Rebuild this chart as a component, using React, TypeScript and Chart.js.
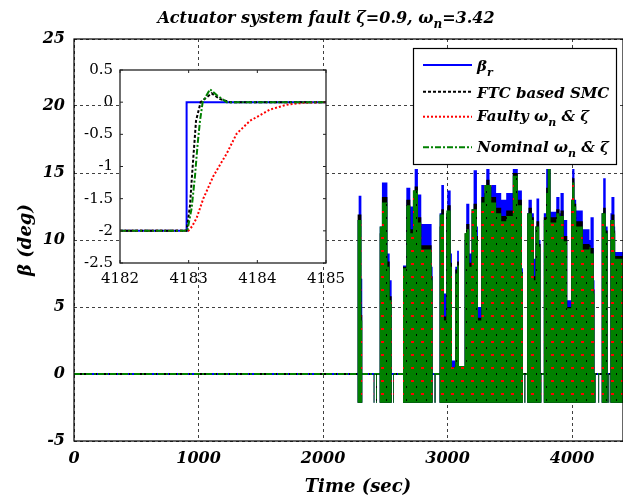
import React, { useEffect, useRef } from "react";
import { Chart, registerables } from "chart.js";

Chart.register(...registerables);

const FONT = '"DejaVu Serif", "Liberation Serif", serif';

// ---------- main axes ----------
const xTicks = [0, 1000, 2000, 3000, 4000];
const yTicks = [-5, 0, 5, 10, 15, 20, 25];
const X_MIN = 0;
const X_MAX = 4409;
const Y_MIN = -5;
const Y_MAX = 25;
const L = -2.15; // lower edge of the dense switching bursts

// zero level of all four signals outside the bursts
const baseT = [0, 4409];
const baseV = [0, 0];

// envelope of the dense bursts (level of each entry holds from the previous time to this time)
const envT = [
  2276, 2286, 2308, 2315, 2407, 2412, 2427, 2433, 2455, 2473, 2517, 2535, 2551, 2562, 2567,
  2642, 2669, 2701, 2722, 2736, 2762, 2789, 2872, 2880, 2896, 2903,
  2936, 2950, 2971, 2990, 2998, 3025, 3035, 3062, 3077, 3091, 3137, 3150, 3175,
  3193, 3209, 3236, 3244, 3271, 3297, 3311, 3337, 3351, 3390, 3431, 3471, 3524, 3564, 3597, 3605, 3618, 3624,
  3640, 3650, 3677, 3693, 3706, 3714, 3736, 3747, 3753, 3773, 3792, 3805, 3827,
  3873, 3899, 3907, 3933, 3961, 3993, 4001, 4019, 4033, 4086, 4140, 4148, 4174, 4180, 4188, 4212, 4217,
  4238, 4250, 4270, 4286, 4292, 4298, 4308, 4316, 4340, 4346, 4409,
];
const envBlue = [
  11.5, 13.3, 7.1, L, 0, L, 0, L, 11, 14.3, 9, 7, L, 0, L,
  8.1, 13.9, 12.5, 13, 15.3, 13.4, 11.2, 8, L, 0, L,
  12, 14.1, 6, 12, 13.7, 9, 1, 8, 9.2, 0.5, 10, 12.7, 9,
  12, 15.2, 11, 5, 14.1, 13.5, 15.3, 14, 14.1, 13.5, 13, 13.5, 15.3, 13.7, 7.9, L, 0, L,
  12, 13, 12, 8.6, 11, 13.1, 10, 0, L, 12, 15.3, 15.3, 12.1,
  13.2, 12, 13.5, 11.5, 5.5, 13, 15.3, 13, 12.2, 10.8, 10, 11.7, 7, 0, L, 0, L,
  12, 14.6, 11, L, 0, L, 12, 13.2, 11, 9.1, 9.1,
];
const envBlack = [
  11.9, 11.9, 4.4, L, 0, L, 0, L, 10.5, 13.2, 8.4, 5.8, L, 0, L,
  8, 13, 10.8, 13.7, 14, 11.7, 9.6, 7.3, L, 0, L,
  11, 12.3, 4.3, 12, 12.6, 8.3, 0.5, 7.8, 8.4, 0.6, 10.5, 11.2, 8.3,
  12.3, 12.7, 10.3, 4.2, 13.2, 14.1, 14.5, 14.1, 13.2, 12.4, 11.8, 12.2, 15, 13, 7.6, L, 0, L,
  12, 12.4, 11.7, 7.3, 11, 11.4, 9.7, 0, L, 11.7, 13.9, 15.3, 11.7,
  12.3, 11.8, 12.2, 10.3, 5, 13, 14.6, 12.7, 11.4, 9.7, 9.6, 9.4, 6.3, 0, L, 0, L,
  12, 12.4, 10.7, L, 0, L, 11.5, 11.9, 10.7, 8.8, 8.8,
];
const envGreen = [
  11.5, 11.5, 4, L, 0, L, 0, L, 11, 12.8, 8, 5.5, L, 0, L,
  7.9, 12.6, 10.5, 13.7, 13.7, 11.3, 9.3, 7, L, 0, L,
  11.9, 11.9, 4, 12.2, 12.2, 8, 0.5, 7.5, 8.1, 0.6, 10.5, 10.8, 8,
  12.3, 12.3, 10, 4, 12.8, 14.1, 14.1, 14.1, 12.8, 12, 11.4, 11.8, 14.8, 12.6, 7.5, L, 0, L,
  12, 12, 11.5, 7, 11, 11, 9.5, 0, L, 11.5, 13.5, 15.3, 11.3,
  12, 11.8, 11.8, 9.9, 4.9, 13, 14.3, 12.5, 11, 9.3, 9.5, 9, 6, 0, L, 0, L,
  12, 12, 10.5, L, 0, L, 11.5, 11.5, 10.5, 8.6, 8.6,
];

// ---------- inset (zoom around t = 4183 s) ----------
const inXTicks = [4182, 4183, 4184, 4185];
const inYTicks = [-2.5, -2, -1.5, -1, -0.5, 0, 0.5];
const inBlueT = [4182, 4182.97, 4182.97, 4185];
const inBlueV = [-2, -2, 0, 0];
const inBlackT = [4182, 4182.97, 4183.02, 4183.048, 4183.107, 4183.175, 4183.335, 4183.45, 4183.602, 4185];
const inBlackV = [-2, -2, -1.6, -1.15, -0.29, 0, 0.137, 0.05, 0, 0];
const inRedT = [4182, 4182.995, 4183.05, 4183.116, 4183.213, 4183.359, 4183.553, 4183.699, 4183.893, 4184.184, 4184.427, 4184.67, 4185];
const inRedV = [-2, -2, -1.93, -1.8, -1.5, -1.15, -0.8, -0.49, -0.29, -0.115, -0.04, -0.01, 0];
const inGreenT = [4182, 4182.98, 4183.043, 4183.092, 4183.131, 4183.165, 4183.204, 4183.311, 4183.408, 4183.553, 4185];
const inGreenV = [-2, -2, -1.65, -1.15, -0.645, -0.29, 0, 0.2, 0.11, 0, 0];

// ---------- texts ----------
type Part = [string, boolean];
const titleParts: Part[] = [["Actuator system fault \u03b6=0.9, \u03c9", false], ["n", true], ["=3.42", false]];
const xTitleParts: Part[] = [["Time (sec)", false]];
const yTitleParts: Part[] = [["\u03b2 (deg)", false]];
const legendRows: Part[][] = [
  [["\u03b2", false], ["r", true]],
  [["FTC based SMC", false]],
  [["Faulty \u03c9", false], ["n", true], [" & \u03b6", false]],
  [["Nominal \u03c9", false], ["n", true], [" & \u03b6", false]],
];

const COLORS = { blue: "#0000ff", black: "#000000", red: "#ff0000", green: "#008000" };
const DASH = { blue: [] as number[], black: [3, 2], red: [2, 2], green: [6, 2, 2, 2] };

const zip = (t: number[], v: number[]) => t.map((x, i) => ({ x, y: v[i] }));

function drawRich(ctx: CanvasRenderingContext2D, parts: Part[], x: number, y: number, size: number, align: "left" | "center") {
  const main = `italic bold ${size}px ${FONT}`;
  const sub = `italic bold ${Math.round(size * 0.72)}px ${FONT}`;
  let w = 0;
  for (const [t, s] of parts) {
    ctx.font = s ? sub : main;
    w += ctx.measureText(t).width;
  }
  let cx = align === "center" ? x - w / 2 : x;
  ctx.textAlign = "left";
  ctx.textBaseline = "alphabetic";
  for (const [t, s] of parts) {
    ctx.font = s ? sub : main;
    ctx.fillText(t, cx, s ? y + size * 0.32 : y);
    cx += ctx.measureText(t).width;
  }
}

function makePattern(ctx: CanvasRenderingContext2D) {
  const c = document.createElement("canvas");
  c.width = 10;
  c.height = 13;
  const g = c.getContext("2d")!;
  g.fillStyle = COLORS.green;
  g.fillRect(0, 0, 10, 13);
  g.fillStyle = COLORS.red;
  g.fillRect(1, 3, 3, 2);
  g.fillStyle = COLORS.black;
  g.fillRect(6, 9, 1, 2);
  return ctx.createPattern(c, "repeat")!;
}

const mainDecor = {
  id: "mainDecor",
  afterDatasetsDraw(chart: any) {
    const { ctx, chartArea: a } = chart;
    ctx.save();
    ctx.setLineDash([]);
    ctx.strokeStyle = "#000";
    ctx.lineWidth = 1.2;
    ctx.strokeRect(a.left, a.top, a.right - a.left, a.bottom - a.top);
    ctx.restore();
  },
  afterDraw(chart: any) {
    const ctx: CanvasRenderingContext2D = chart.ctx;
    ctx.save();
    ctx.fillStyle = "#000";
    drawRich(ctx, titleParts, 326, 23, 16, "center");
    drawRich(ctx, xTitleParts, 358, 492, 18, "center");
    ctx.save();
    ctx.translate(31, 240);
    ctx.rotate(-Math.PI / 2);
    drawRich(ctx, yTitleParts, 0, 0, 18, "center");
    ctx.restore();

    // legend
    const bx = 413.5, by = 48.5, bw = 203, bh = 116;
    ctx.fillStyle = "#fff";
    ctx.fillRect(bx, by, bw, bh);
    ctx.strokeStyle = "#000";
    ctx.lineWidth = 1.2;
    ctx.setLineDash([]);
    ctx.strokeRect(bx, by, bw, bh);
    const keys = ["blue", "black", "red", "green"] as const;
    const lineY = [65, 91.7, 116.7, 147.3];
    const textY = [71, 98, 121, 152];
    keys.forEach((k, i) => {
      ctx.strokeStyle = COLORS[k];
      ctx.lineWidth = 2;
      ctx.setLineDash(DASH[k]);
      ctx.beginPath();
      ctx.moveTo(423, lineY[i]);
      ctx.lineTo(472, lineY[i]);
      ctx.stroke();
      ctx.setLineDash([]);
      ctx.fillStyle = "#000";
      drawRich(ctx, legendRows[i], 477, textY[i], 15, "left");
    });
    ctx.restore();
  },
};

const insetDecor = {
  id: "insetDecor",
  beforeDatasetsDraw(chart: any) {
    const { ctx, chartArea: a } = chart;
    ctx.save();
    ctx.fillStyle = "#fff";
    ctx.fillRect(a.left, a.top, a.right - a.left, a.bottom - a.top);
    ctx.restore();
  },
  afterDatasetsDraw(chart: any) {
    const { ctx, chartArea: a, scales } = chart;
    ctx.save();
    ctx.setLineDash([]);
    ctx.strokeStyle = "#222";
    ctx.lineWidth = 1.3;
    ctx.strokeRect(a.left, a.top, a.right - a.left, a.bottom - a.top);
    ctx.lineWidth = 1;
    ctx.beginPath();
    for (const v of inXTicks) {
      const px = scales.x.getPixelForValue(v);
      ctx.moveTo(px, a.bottom);
      ctx.lineTo(px, a.bottom - 3);
      ctx.moveTo(px, a.top);
      ctx.lineTo(px, a.top + 3);
    }
    for (const v of inYTicks) {
      const py = scales.y.getPixelForValue(v);
      ctx.moveTo(a.left, py);
      ctx.lineTo(a.left + 3, py);
      ctx.moveTo(a.right, py);
      ctx.lineTo(a.right - 3, py);
    }
    ctx.stroke();
    ctx.restore();
  },
};

export default function App() {
  const mainRef = useRef<HTMLCanvasElement>(null);
  const insetRef = useRef<HTMLCanvasElement>(null);

  useEffect(() => {
    const mctx = mainRef.current!.getContext("2d")!;
    const pattern = makePattern(mctx);
    const tickFont = { family: FONT, size: 16, style: "italic" as const, weight: "bold" as const };
    const envSet = (v: number[], bg: any, order: number) => ({
      data: zip(envT, v),
      stepped: true,
      borderWidth: 0,
      borderColor: "rgba(0,0,0,0)",
      backgroundColor: bg,
      fill: { value: L },
      pointRadius: 0,
      order,
    });
    const lineSet = (k: keyof typeof COLORS, t: number[], v: number[], order: number) => ({
      data: zip(t, v),
      borderColor: COLORS[k],
      borderDash: DASH[k],
      borderWidth: 2,
      pointRadius: 0,
      fill: false,
      tension: 0,
      order,
    });

    const main = new Chart(mctx, {
      type: "line",
      data: {
        datasets: [
          envSet(envGreen, pattern, 0),
          envSet(envBlack, COLORS.black, 1),
          envSet(envBlue, COLORS.blue, 2),
          lineSet("green", baseT, baseV, 3),
          lineSet("red", baseT, baseV, 4),
          lineSet("black", baseT, baseV, 5),
          lineSet("blue", baseT, baseV, 6),
        ] as any,
      },
      options: {
        animation: false,
        responsive: false,
        maintainAspectRatio: false,
        layout: { padding: { top: 39, right: 0, left: 0, bottom: 0 } },
        plugins: { legend: { display: false }, tooltip: { enabled: false }, title: { display: false } },
        scales: {
          x: {
            type: "linear",
            min: X_MIN,
            max: X_MAX,
            afterBuildTicks: (s: any) => {
              s.ticks = xTicks.map((value) => ({ value }));
            },
            afterFit: (s: any) => {
              s.height = 58;
            },
            grid: { color: "rgba(0,0,0,0.75)", lineWidth: 1, drawTicks: false, borderDash: [3, 3] } as any,
            border: { display: false, dash: [3, 3] },
            ticks: { color: "#000", font: tickFont, padding: 8, maxRotation: 0, autoSkip: false, callback: (v: any) => String(v) },
          },
          y: {
            type: "linear",
            min: Y_MIN,
            max: Y_MAX,
            afterBuildTicks: (s: any) => {
              s.ticks = yTicks.map((value) => ({ value }));
            },
            afterFit: (s: any) => {
              s.width = 74;
            },
            grid: { color: "rgba(0,0,0,0.75)", lineWidth: 1, drawTicks: false, borderDash: [3, 3] } as any,
            border: { display: false, dash: [3, 3] },
            ticks: { color: "#000", font: tickFont, padding: 9, autoSkip: false, callback: (v: any) => String(v) },
          },
        },
      },
      plugins: [mainDecor],
    });

    const ictx = insetRef.current!.getContext("2d")!;
    const inFont = { family: FONT, size: 15 };
    const inset = new Chart(ictx, {
      type: "line",
      data: {
        datasets: [
          lineSet("green", inGreenT, inGreenV, 0),
          lineSet("red", inRedT, inRedV, 1),
          lineSet("black", inBlackT, inBlackV, 2),
          lineSet("blue", inBlueT, inBlueV, 3),
        ] as any,
      },
      options: {
        animation: false,
        responsive: false,
        maintainAspectRatio: false,
        layout: { padding: { top: 10, right: 44, left: 0, bottom: 0 } },
        plugins: { legend: { display: false }, tooltip: { enabled: false } },
        scales: {
          x: {
            type: "linear",
            min: 4182,
            max: 4185,
            afterBuildTicks: (s: any) => {
              s.ticks = inXTicks.map((value) => ({ value }));
            },
            afterFit: (s: any) => {
              s.height = 31;
            },
            grid: { display: false, drawTicks: false },
            border: { display: false },
            ticks: { color: "#000", font: inFont, padding: 7, maxRotation: 0, autoSkip: false, callback: (v: any) => String(v) },
          },
          y: {
            type: "linear",
            min: -2.5,
            max: 0.5,
            afterBuildTicks: (s: any) => {
              s.ticks = inYTicks.map((value) => ({ value }));
            },
            afterFit: (s: any) => {
              s.width = 80;
            },
            grid: { display: false, drawTicks: false },
            border: { display: false },
            ticks: { color: "#000", font: inFont, padding: 7, autoSkip: false, callback: (v: any) => String(v) },
          },
        },
      },
      plugins: [insetDecor],
    });

    return () => {
      main.destroy();
      inset.destroy();
    };
  }, []);

  return (
    <div style={{ position: "fixed", left: 0, top: 0, width: 623, height: 499, overflow: "hidden", background: "#fff" }}>
      <canvas ref={mainRef} width={623} height={499} style={{ position: "absolute", left: 0, top: 0, width: 623, height: 499 }} />
      <canvas ref={insetRef} width={330} height={240} style={{ position: "absolute", left: 40, top: 54, width: 330, height: 240 }} />
    </div>
  );
}
